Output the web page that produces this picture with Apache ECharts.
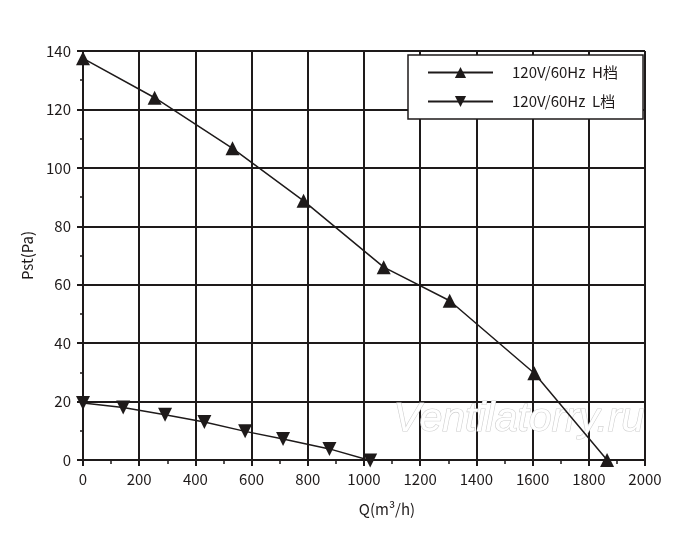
<!DOCTYPE html>
<html>
<head>
<meta charset="utf-8">
<script src="https://cdn.jsdelivr.net/npm/echarts@6/dist/echarts.min.js"></script>
<style>
  html, body { margin: 0; padding: 0; background: #fff; }
  #chart { width: 700px; height: 546px; }
</style>
</head>
<body>
<div id="chart"></div>
<script>
// flow (m3/h) and static pressure (Pa)
const flowH = [0, 255, 532, 785, 1070, 1305, 1606, 1865];
const pressH = [137.5, 124, 106.7, 88.7, 66, 54.5, 29.7, 0];
const flowL = [0, 143, 292, 432, 577, 712, 877, 1022];
const pressL = [19.5, 18, 15.5, 13, 9.8, 7.2, 3.8, -0.2];

const nameH = "120V/60Hz  H档";
const nameL = "120V/60Hz  L档";

const ink = "#1e1a1a";
const fontFamily = "'Noto Sans CJK SC', 'Noto Sans', sans-serif";

const zip = (xs, ys) => xs.map((x, i) => [x, ys[i]]);

const myChart = echarts.init(document.getElementById("chart"));

myChart.setOption({
    backgroundColor: "#fff",
    animation: false,
    textStyle: { fontFamily: fontFamily },
    grid: { left: 83, right: 55, top: 51, bottom: 86 },
    xAxis: {
        type: "value",
        min: 0,
        max: 2000,
        interval: 200,
        name: "Q(m³/h)",
        nameLocation: "middle",
        nameGap: 42,
        nameTextStyle: { color: ink, fontSize: 15, padding: [0, 0, 0, 46] },
        axisLine: { show: true, lineStyle: { color: ink, width: 2 } },
        axisTick: { show: true, length: 6, lineStyle: { color: ink, width: 2 } },
        minorTick: { show: true, splitNumber: 2, length: 4, lineStyle: { color: ink, width: 1.5 } },
        axisLabel: { color: ink, fontSize: 15, margin: 12, formatter: (v) => String(v) },
        splitLine: { show: true, lineStyle: { color: ink, width: 2 } }
    },
    yAxis: {
        type: "value",
        min: 0,
        max: 140,
        interval: 20,
        name: "Pst(Pa)",
        nameLocation: "middle",
        nameGap: 46,
        nameTextStyle: { color: ink, fontSize: 15 },
        axisLine: { show: true, lineStyle: { color: ink, width: 2 } },
        axisTick: { show: true, length: 6, lineStyle: { color: ink, width: 2 } },
        minorTick: { show: true, splitNumber: 2, length: 3, lineStyle: { color: ink, width: 1.5 } },
        axisLabel: { color: ink, fontSize: 15, margin: 12 },
        splitLine: { show: true, lineStyle: { color: ink, width: 2 } }
    },
    legend: {
        orient: "vertical",
        left: 408,
        top: 55,
        padding: [10, 25, 10, 19],
        itemWidth: 65,
        itemHeight: 14,
        itemGap: 14,
        backgroundColor: "#fff",
        borderColor: ink,
        borderWidth: 1.5,
        borderRadius: 0,
        textStyle: { color: ink, fontSize: 15, padding: [0, 0, 0, 14] },
        data: [nameH, nameL]
    },
    graphic: [{
        type: "text",
        left: 393,
        top: 398,
        z: 3,
        style: {
            text: "Ventilatorry.ru",
            font: "italic 41px 'Liberation Sans', sans-serif",
            fill: "#fff",
            stroke: "#cfcfcf",
            lineWidth: 1.2
        }
    }],
    series: [
        {
            name: nameH,
            type: "line",
            data: zip(flowH, pressH),
            symbol: "triangle",
            symbolSize: 14,
            clip: false,
            z: 5,
            lineStyle: { color: ink, width: 1.5 },
            itemStyle: { color: ink }
        },
        {
            name: nameL,
            type: "line",
            data: zip(flowL, pressL),
            symbol: "triangle",
            symbolRotate: 180,
            symbolSize: 14,
            clip: false,
            z: 5,
            lineStyle: { color: ink, width: 1.5 },
            itemStyle: { color: ink }
        }
    ]
});
</script>
</body>
</html>
